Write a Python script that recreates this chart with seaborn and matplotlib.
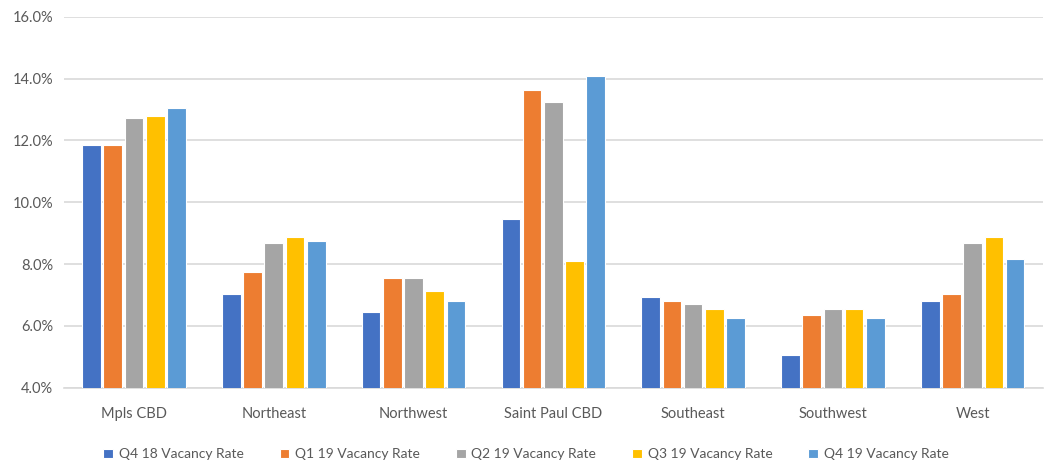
import numpy as np
import pandas as pd
import matplotlib
matplotlib.use("Agg")
import matplotlib.pyplot as plt
import seaborn as sns
from matplotlib.ticker import FuncFormatter, MultipleLocator

submarkets = ["Mpls CBD", "Northeast", "Northwest", "Saint Paul CBD",
              "Southeast", "Southwest", "West"]
quarters = ["Q4 18 Vacancy Rate", "Q1 19 Vacancy Rate", "Q2 19 Vacancy Rate",
            "Q3 19 Vacancy Rate", "Q4 19 Vacancy Rate"]

q4_18 = [11.85, 7.03, 6.45, 9.47, 6.92, 5.04, 6.81]
q1_19 = [11.85, 7.75, 7.54, 13.62, 6.81, 6.35, 7.03]
q2_19 = [12.74, 8.69, 7.54, 13.25, 6.71, 6.55, 8.69]
q3_19 = [12.79, 8.89, 7.12, 8.10, 6.55, 6.55, 8.89]
q4_19 = [13.05, 8.74, 6.81, 14.08, 6.24, 6.24, 8.17]

colors = ["#4472C4", "#ED7D31", "#A5A5A5", "#FFC000", "#5B9BD5"]

series = [q4_18, q1_19, q2_19, q3_19, q4_19]
df = pd.DataFrame({
    "Submarket": np.tile(submarkets, len(quarters)),
    "Quarter": np.repeat(quarters, len(submarkets)),
    "Rate": np.concatenate(series),
})

sns.set_theme(style="white")
plt.rcParams["font.family"] = ["Lato", "DejaVu Sans"]
text_color = "#595959"
grid_color = "#D9D9D9"

fig = plt.figure(figsize=(10.52, 4.67), dpi=100)
ax = fig.add_axes([0.061, 0.170, 0.930, 0.794])

sns.barplot(data=df, x="Submarket", y="Rate", hue="Quarter",
            order=submarkets, hue_order=quarters, palette=colors,
            saturation=1, width=0.76, gap=0.12, edgecolor="white",
            linewidth=0.8, ax=ax, legend=True, zorder=3)

ax.set_ylim(4, 16)
ax.set_xlim(-0.5, len(submarkets) - 0.5)
ax.yaxis.set_major_locator(MultipleLocator(2))
ax.yaxis.set_major_formatter(FuncFormatter(lambda v, p: f"{v:.1f}%"))
ax.grid(axis="y", color=grid_color, linewidth=1.2, zorder=0)
ax.set_axisbelow(True)

for side in ["top", "right", "left"]:
    ax.spines[side].set_visible(False)
ax.spines["bottom"].set_color(grid_color)
ax.spines["bottom"].set_linewidth(1.2)

ax.set_xlabel("")
ax.set_ylabel("")
ax.tick_params(axis="both", length=0, labelsize=10.5, labelcolor=text_color)
ax.tick_params(axis="x", pad=14)
ax.tick_params(axis="y", pad=8)

handles, labels = ax.get_legend_handles_labels()
ax.legend_.remove()
fig.legend(handles, labels, loc="center", bbox_to_anchor=(0.5, 0.027),
           ncol=5, frameon=False, fontsize=10, labelcolor=text_color,
           handlelength=0.7, handleheight=0.7, handletextpad=0.4,
           columnspacing=2.6)

fig.savefig("out.png", dpi=100, facecolor="white")
